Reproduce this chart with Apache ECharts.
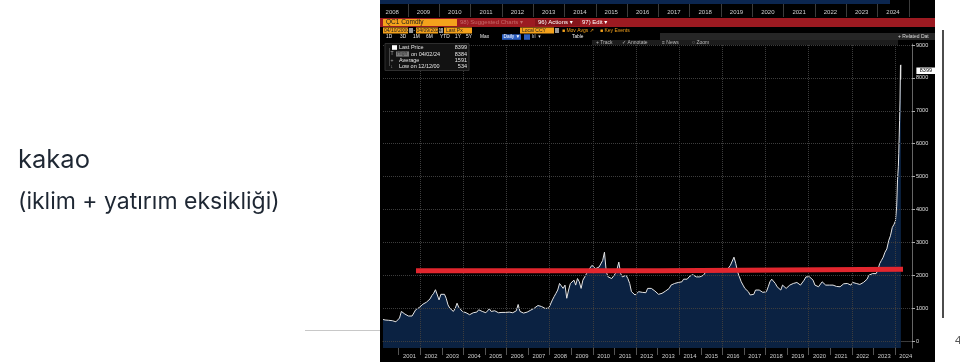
<!DOCTYPE html>
<html><head><meta charset="utf-8">
<script src="https://cdn.jsdelivr.net/npm/echarts@6/dist/echarts.min.js"></script>
<style>html,body{margin:0;padding:0;background:#fff}#c{width:960px;height:362px}</style>
</head><body><div id="c"></div>
<script>
// ---- DATA (QC1 Comdty, London cocoa, monthly) ----
const firstDate = '2000-04-10';
const monthlyPrices = [
  // 2000 Apr-Dec
  655, 640, 665, 630, 648, 618, 612, 585, 545,
  // 2001
  700, 900, 930, 820, 790, 760, 740, 760, 820, 950, 1000, 1020,
  // 2002
  1080, 1120, 1150, 1180, 1200, 1280, 1380, 1450, 1560, 1610, 1250, 1420,
  // 2003
  1450, 1420, 1300, 1100, 1000, 960, 900, 990, 1150, 1020, 960, 900,
  // 2004
  880, 860, 820, 800, 850, 860, 920, 880, 950, 960, 900, 880,
  // 2005
  860, 900, 980, 900, 880, 920, 890, 860, 850, 870, 860, 870,
  // 2006
  900, 880, 870, 860, 880, 920, 1110, 900, 860, 850, 870, 880,
  // 2007
  900, 940, 960, 1000, 1040, 1080, 1100, 1050, 1020, 990, 960, 1000,
  // 2008
  1050, 1250, 1350, 1450, 1550, 1750, 1800, 1600, 1700, 1300, 1550, 1750,
  // 2009
  1800, 1850, 1700, 1900, 1800, 1600, 1850, 1950, 2050, 2150, 2200, 2300,
  // 2010
  2250, 2200, 2150, 2250, 2300, 2450, 2700, 2100, 1950, 1950, 1900, 1950,
  // 2011
  2050, 2200, 2400, 2050, 1950, 1950, 2000, 1900, 1750, 1500, 1450, 1400,
  // 2012
  1450, 1500, 1460, 1480, 1420, 1470, 1600, 1640, 1600, 1550, 1520, 1500,
  // 2013
  1420, 1400, 1450, 1480, 1520, 1550, 1600, 1700, 1720, 1750, 1800, 1780,
  // 2014
  1750, 1800, 1880, 1850, 1880, 1950, 2000, 2020, 2050, 1950, 1900, 1950,
  // 2015
  1950, 2000, 2050, 2150, 2100, 2150, 2200, 2100, 2180, 2150, 2200, 2250,
  // 2016
  2200, 2150, 2150, 2200, 2300, 2350, 2550, 2350, 2100, 1950, 1800, 1700,
  // 2017
  1600, 1550, 1500, 1400, 1450, 1420, 1550, 1500, 1550, 1600, 1480, 1450,
  // 2018
  1500, 1650, 1800, 1880, 1850, 1750, 1650, 1600, 1550, 1700, 1650, 1600,
  // 2019
  1650, 1700, 1680, 1750, 1800, 1780, 1750, 1700, 1750, 1850, 1950, 1900,
  // 2020
  1950, 1950, 1850, 1700, 1750, 1650, 1600, 1800, 1850, 1700, 1750, 1700,
  // 2021
  1750, 1700, 1650, 1660, 1700, 1650, 1620, 1740, 1700, 1750, 1720, 1700,
  // 2022
  1780, 1800, 1750, 1760, 1720, 1760, 1780, 1800, 1880, 2000, 2000, 2050,
  // 2023
  2000, 2050, 2150, 2350, 2450, 2550, 2700, 2800, 3050, 3200, 3450, 3550
];
const recentDates = ['2024-01-08','2024-01-15','2024-01-22','2024-01-29','2024-02-05','2024-02-12','2024-02-19','2024-02-26','2024-03-04','2024-03-11','2024-03-18','2024-03-25','2024-04-02','2024-04-05','2024-04-09'];
const recentPrices = [3650, 3800, 3950, 4100, 4500, 4900, 5100, 5300, 5700, 6200, 6700, 7300, 8384, 7950, 8399];

const redDates = ['2001-10-20','2013-02-10','2013-02-10','2024-05-15'];
const redValues = [2137, 2137, 2180, 2180];

const bottomYears = [2001,2002,2003,2004,2005,2006,2007,2008,2009,2010,2011,2012,2013,2014,2015,2016,2017,2018,2019,2020,2021,2022,2023,2024];
const headerYears = [2008,2009,2010,2011,2012,2013,2014,2015,2016,2017,2018,2019,2020,2021,2022,2023,2024];
const gridYears = [2002,2004,2006,2008,2010,2012,2014,2016,2018,2020,2022,2024];
const yTicks = [0,1000,2000,3000,4000,5000,6000,7000,8000,9000];
const lastPrice = 8399;
const lastDate = '2024-04-09';
const legendRows = [['Last Price','8399'],['on 04/02/24','8384'],['Average','1591'],['Low on 12/12/00','534']];

// ---- build ----
function d(s){const p=s.split('-').map(Number);return Date.UTC(p[0],p[1]-1,p[2]);}
function ym(y,m,dd){return Date.UTC(y,m,dd||1);}
const priceData = [[d(firstDate), monthlyPrices[0]]];
for (let i=1;i<monthlyPrices.length;i++){const m=3+i;priceData.push([ym(2000+Math.floor(m/12), m%12, 15), monthlyPrices[i]]);}
recentDates.forEach((s,i)=>priceData.push([d(s), recentPrices[i]]));
const redData = redDates.map((s,i)=>[d(s), redValues[i]]);
const yearOf = v => String(new Date(v).getUTCFullYear());

const YEAR = 365.25*86400000;
const tMin = d('2000-04-10'), tMax = d('2024-10-14');
const h0 = ym(2009,0,1);
const hMin = h0 - (28/31.3)*YEAR, hMax = h0 + ((935-408)/31.3)*YEAR;

const BF = 'Liberation Sans, DejaVu Sans, sans-serif';
const gridMarks = yTicks.map(v=>({yAxis:v})).concat(gridYears.map(y=>({xAxis:ym(y,0,1)})));

function T(x,y,text,o){o=o||{};return {type:'text',x:x,y:y,z:o.z||20,style:{text:text,fill:o.fill||'#ddd',fontSize:o.fs||5.5,fontFamily:o.ff||BF,fontWeight:o.fw||'normal',align:o.align||'left',verticalAlign:'middle'}};}
function R(x,y,w,h,fill,o){o=o||{};return {type:'rect',z:o.z||19,shape:{x:x,y:y,width:w,height:h},style:{fill:fill,stroke:o.stroke||null,lineWidth:o.lw||1}};}
function L(x1,y1,x2,y2,c,w){return {type:'line',z:19,shape:{x1:x1,y1:y1,x2:x2,y2:y2},style:{stroke:c,lineWidth:w||1}};}

const OR = '#f4a21c';
const g = [
  // slide
  R(0,0,380,362,'#fff',{z:1}), R(935,0,25,362,'#fff',{z:1}),
  L(943,30,943,318,'#111',1.5), L(305,330.5,380,330.5,'#c8c8c8',1),
  T(955,341,'4',{fill:'#555',fs:11,ff:'Noto Sans'}),
  T(18,160,'kakao',{fill:'#1e2733',fs:25.5,ff:'Inter'}),
  T(18,202,'(iklim + yatırım eksikliği)',{fill:'#1e2733',fs:23,ff:'Inter'}),
  // header overview band
  R(380,0,510,4,'#0b2650',{z:0}),
  // red bar
  R(380,18,555,9,'#9c1a21'), R(383,19,74,7,OR),
  T(386,22.6,'QC1 Comdty',{fill:'#1a1a1a',fs:6.5}),
  T(460,22.6,'98) Suggested Charts ▾',{fill:'#c46a6a',fs:6}),
  R(535,19,45,7,'#85141a'),
  T(538,22.6,'96) Actions ▾',{fill:'#fff',fs:6}),
  T(582,22.6,'97) Edit ▾',{fill:'#fff',fs:6}),
  // row 2
  R(383,27.5,25,6,OR), T(384,30.6,'04/10/2000',{fill:'#222',fs:5}),
  R(409,28,4,5,'#999'), T(413.5,30.6,'-',{fill:'#ddd',fs:5}),
  R(416,27.5,22,6,OR), T(416.5,30.6,'04/09/2024',{fill:'#222',fs:5}),
  R(439,28,4,5,'#999'),
  R(444,27.5,28,6,OR), T(446,30.6,'Last Px',{fill:'#222',fs:5}),
  R(520,27.5,34,6,OR), T(522,30.6,'Local CCY',{fill:'#222',fs:5}),
  R(555,28,4,5,'#999'),
  T(562,30.6,'■ Mov Avgs ↗',{fill:OR,fs:5}),
  T(600,30.6,'■ Key Events',{fill:OR,fs:5}),
  // row 3
  T(386,37,'1D',{fs:4.8,fill:'#eee'}), T(400,37,'3D',{fs:4.8,fill:'#eee'}), T(413,37,'1M',{fs:4.8,fill:'#eee'}),
  T(426,37,'6M',{fs:4.8,fill:'#eee'}), T(440,37,'YTD',{fs:4.8,fill:'#eee'}), T(455,37,'1Y',{fs:4.8,fill:'#eee'}),
  T(466,37,'5Y',{fs:4.8,fill:'#eee'}), T(480,37,'Max',{fs:4.8,fill:'#eee'}),
  R(502,34.3,19,5.5,'#2d5fc0'), T(503.5,37,'Daily ▼',{fs:4.8,fill:'#fff'}),
  R(524,34.3,6,5.5,'#2d5fc0'), T(532,37,'lıl  ▾',{fs:4.8,fill:'#ddd'}),
  T(572,37,'Table',{fs:4.8,fill:'#eee'}),
  // toolbars
  R(660,33,275,7,'#262626'), T(898,36.6,'+ Related Dat',{fs:5,fill:'#ddd'}),
  R(592,40,306,5,'#1c1c1c'),
  T(596,42.6,'+ Track',{fs:5,fill:'#bbb'}), T(622,42.6,'✓ Annotate',{fs:5,fill:'#bbb'}),
  T(662,42.6,'≡ News',{fs:5,fill:'#bbb'}), T(692,42.6,'○ Zoom',{fs:5,fill:'#bbb'}),
  // legend box
  R(385,43.5,84,27,'#121212',{stroke:'#2e2e2e'}),
  L(389.5,48,389.5,66,'#555',0.8),
  R(392,45.2,5,4.6,'#fff',{z:21})
];
const lgY = [47.6,54,60.5,66.5];
const lgIcon = ['','T','+','↓'];
legendRows.forEach((r,i)=>{
  if (i>0) g.push(T(390.5,lgY[i],lgIcon[i],{fill:'#aaa',fs:5}));
  let x = 399;
  if (i===1){ g.push(R(396,lgY[i]-2.6,13,5.2,'#7a7a7a',{z:20})); g.push(T(397,lgY[i],'High',{fill:'#333',fs:5})); x=411; }
  g.push(T(x,lgY[i],r[0],{fill:'#e6e6e6',fs:5.5}));
  g.push(T(467,lgY[i],r[1],{fill:'#e6e6e6',fs:5.5,align:'right'}));
});

const option = {
  backgroundColor:'#000',
  animation:false,
  grid:[
    {left:383, right:48, top:44, bottom:14},
    {left:380, right:25, top:0, height:17}
  ],
  xAxis:[
    {type:'value', gridIndex:0, min:tMin, max:tMax, scale:true,
     axisLine:{show:true, lineStyle:{color:'#3a3a3a'}},
     axisTick:{show:true, customValues:bottomYears.map(y=>ym(y,0,1)), length:14, lineStyle:{color:'#555'}},
     axisLabel:{customValues:bottomYears.map(y=>ym(y,6,1)), formatter:yearOf, color:'#cfcfcf', fontSize:5.8, fontFamily:BF, margin:5},
     splitLine:{show:false}},
    {type:'value', gridIndex:1, min:hMin, max:hMax, scale:true,
     axisLine:{show:false},
     axisTick:{show:true, inside:true, customValues:headerYears.map(y=>ym(y+1,0,1)), length:17, lineStyle:{color:'#3c3c3c'}},
     axisLabel:{inside:true, customValues:headerYears.map(y=>ym(y,6,1)), formatter:yearOf, color:'#d0d0d0', fontSize:6, fontFamily:BF, margin:2},
     splitLine:{show:false}}
  ],
  yAxis:[
    {type:'value', gridIndex:0, position:'right', min:-212, max:9030,
     axisLine:{show:true, lineStyle:{color:'#666'}},
     axisTick:{show:true, customValues:yTicks, length:3, lineStyle:{color:'#aaa'}},
     axisLabel:{customValues:yTicks, formatter:v=>String(v), color:'#e0e0e0', fontSize:5.5, fontFamily:BF, margin:4},
     splitLine:{show:false}},
    {type:'value', gridIndex:1, show:false, min:0, max:1}
  ],
  series:[
    {type:'line', xAxisIndex:0, yAxisIndex:0, data:priceData, symbol:'none', z:2,
     lineStyle:{color:'#e4e4e4', width:1}, areaStyle:{color:'#0b2242', opacity:1, origin:'start'},
     markLine:{silent:true, symbol:['none','none'], z:5, label:{show:false},
       lineStyle:{color:'#3d3d3d', type:'dotted', width:1}, data:gridMarks},
     markPoint:{silent:true, z:30, symbol:'rect', symbolSize:[19,6.5], symbolOffset:[25,6],
       itemStyle:{color:'#fff'},
       label:{show:true, position:'inside', color:'#000', fontSize:5.5, fontFamily:BF, formatter:String(lastPrice)},
       data:[{coord:[d(lastDate), lastPrice], value:lastPrice}]}},
    {type:'line', xAxisIndex:0, yAxisIndex:0, data:redData, symbol:'none', z:10,
     lineStyle:{color:'#e2262e', width:5}},
    {type:'line', xAxisIndex:1, yAxisIndex:1, data:[], symbol:'none'}
  ],
  graphic:{elements:g}
};
const chart = echarts.init(document.getElementById('c'));
chart.setOption(option);
</script></body></html>
